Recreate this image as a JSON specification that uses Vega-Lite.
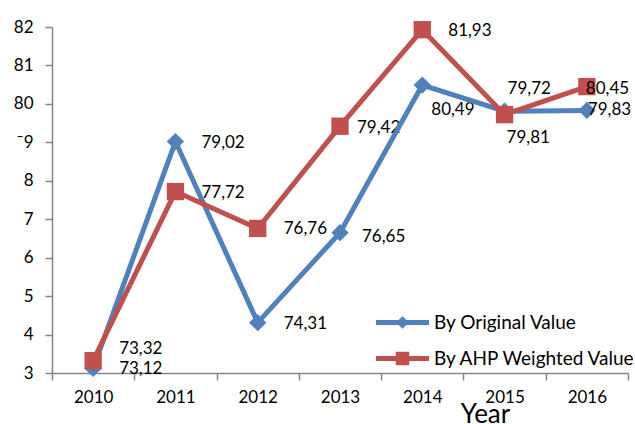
{
  "$schema": "https://vega.github.io/schema/vega-lite/v6.json",
  "width": 576,
  "height": 346,
  "autosize": {"type": "none"},
  "padding": {"left": 52, "top": 27, "right": 7, "bottom": 51},
  "config": {
    "view": {"stroke": null},
    "font": "Lato",
    "locale": {"number": {"decimal": ",", "thousands": ".", "grouping": [3], "currency": ["", ""]}}
  },
  "data": {
    "values": [
      {"Year": "2010", "Series": "By Original Value", "Value": 73.12},
      {"Year": "2011", "Series": "By Original Value", "Value": 79.02},
      {"Year": "2012", "Series": "By Original Value", "Value": 74.31},
      {"Year": "2013", "Series": "By Original Value", "Value": 76.65},
      {"Year": "2014", "Series": "By Original Value", "Value": 80.49},
      {"Year": "2015", "Series": "By Original Value", "Value": 79.81},
      {"Year": "2016", "Series": "By Original Value", "Value": 79.83},
      {"Year": "2010", "Series": "By AHP Weighted Value", "Value": 73.32},
      {"Year": "2011", "Series": "By AHP Weighted Value", "Value": 77.72},
      {"Year": "2012", "Series": "By AHP Weighted Value", "Value": 76.76},
      {"Year": "2013", "Series": "By AHP Weighted Value", "Value": 79.42},
      {"Year": "2014", "Series": "By AHP Weighted Value", "Value": 81.93},
      {"Year": "2015", "Series": "By AHP Weighted Value", "Value": 79.72},
      {"Year": "2016", "Series": "By AHP Weighted Value", "Value": 80.45}
    ]
  },
  "encoding": {
    "x": {
      "field": "Year",
      "type": "ordinal",
      "bandPosition": 0.5,
      "scale": {"type": "band", "paddingInner": 0, "paddingOuter": 0},
      "axis": {
        "title": "Year",
        "labelAngle": 0,
        "tickBand": "extent",
        "tickSize": 7,
        "domainColor": "#868686",
        "tickColor": "#868686",
        "domainWidth": 1.5,
        "tickWidth": 1.5,
        "grid": false,
        "labelFontSize": 17,
        "labelColor": "black",
        "labelPadding": 9,
        "titleFontSize": 26,
        "titleFontWeight": "normal",
        "titleColor": "black",
        "titleX": 433,
        "titleY": 28,
        "titleBaseline": "top"
      }
    },
    "y": {
      "field": "Value",
      "type": "quantitative",
      "scale": {"domain": [73, 82], "nice": false, "zero": false},
      "axis": {
        "title": null,
        "values": [73, 74, 75, 76, 77, 78, 79, 80, 81, 82],
        "tickSize": 7,
        "domainColor": "#868686",
        "tickColor": "#868686",
        "domainWidth": 1.5,
        "tickWidth": 1.5,
        "grid": false,
        "labelFontSize": 17,
        "labelColor": "black",
        "labelPadding": 12,
        "labelExpr": "datum.value >= 80 ? datum.label : (datum.value == 79 ? '¯9' : substring(datum.label, 1))"
      }
    },
    "color": {
      "field": "Series",
      "type": "nominal",
      "scale": {"domain": ["By Original Value", "By AHP Weighted Value"], "range": ["#4F81BD", "#C0504D"]},
      "legend": null
    }
  },
  "layer": [
    {
      "transform": [{"filter": "datum.Year != '2016'"}],
      "mark": {
        "type": "text",
        "align": "left",
        "baseline": "middle",
        "fontSize": 17,
        "dx": {"expr": "datum.Series == 'By Original Value' ? (datum.Year == '2014' ? 9 : datum.Year == '2015' ? 2 : datum.Year == '2013' ? 22 : 26) : (datum.Year == '2015' ? 3 : datum.Year == '2013' ? 17 : 26)"},
        "dy": {"expr": "datum.Series == 'By Original Value' ? (datum.Year == '2014' ? 25 : datum.Year == '2015' ? 27 : datum.Year == '2013' ? 4 : 1) : (datum.Year == '2015' ? -26 : datum.Year == '2010' ? -12 : datum.Year == '2013' ? 2 : 1)"}
      },
      "encoding": {
        "text": {"field": "Value", "type": "quantitative", "format": ".2f"},
        "color": {"value": "black"}
      }
    },
    {
      "mark": {"type": "line", "strokeWidth": 5},
      "encoding": {
        "color": {
          "field": "Series",
          "type": "nominal",
          "scale": {"domain": ["By Original Value", "By AHP Weighted Value"], "range": ["#4F81BD", "#C0504D"]},
          "legend": {
            "orient": "none",
            "legendX": 341,
            "legendY": 286,
            "title": null,
            "padding": 0,
            "symbolSize": 324,
            "symbolType": "M-2.95,-0.28H2.95V0.28H-2.95Z",
            "symbolStrokeWidth": 0,
            "labelFontSize": 19,
            "labelColor": "black",
            "labelOffset": 22,
            "labelLimit": 400,
            "rowPadding": 16,
            "encode": {
              "symbols": {
                "update": {
                  "shape": {"signal": "datum.value == 'By Original Value' ? 'M-2.95,-0.28H2.95V0.28H-2.95Z M0,-0.7L0.7,0L0,0.7L-0.7,0Z' : 'M-2.95,-0.28H2.95V0.28H-2.95Z M-0.75,-0.75H0.75V0.75H-0.75Z'"},
                  "fill": {"signal": "datum.value == 'By Original Value' ? '#4F81BD' : '#C0504D'"},
                  "stroke": {"value": "transparent"},
                  "strokeWidth": {"value": 0}
                }
              }
            }
          }
        }
      }
    },
    {
      "transform": [{"filter": "datum.Series == 'By Original Value'"}],
      "mark": {"type": "point", "shape": "diamond", "filled": true, "size": 300, "opacity": 1}
    },
    {
      "transform": [{"filter": "datum.Series == 'By AHP Weighted Value'"}],
      "mark": {"type": "point", "shape": "square", "filled": true, "size": 300, "opacity": 1}
    },
    {
      "transform": [{"filter": "datum.Year == '2016'"}],
      "mark": {
        "type": "text",
        "align": "left",
        "baseline": "middle",
        "fontSize": 17,
        "dx": {"expr": "datum.Series == 'By Original Value' ? 1 : -1"},
        "dy": {"expr": "datum.Series == 'By Original Value' ? 0 : 2"}
      },
      "encoding": {
        "text": {"field": "Value", "type": "quantitative", "format": ".2f"},
        "color": {"value": "black"}
      }
    }
  ]
}
